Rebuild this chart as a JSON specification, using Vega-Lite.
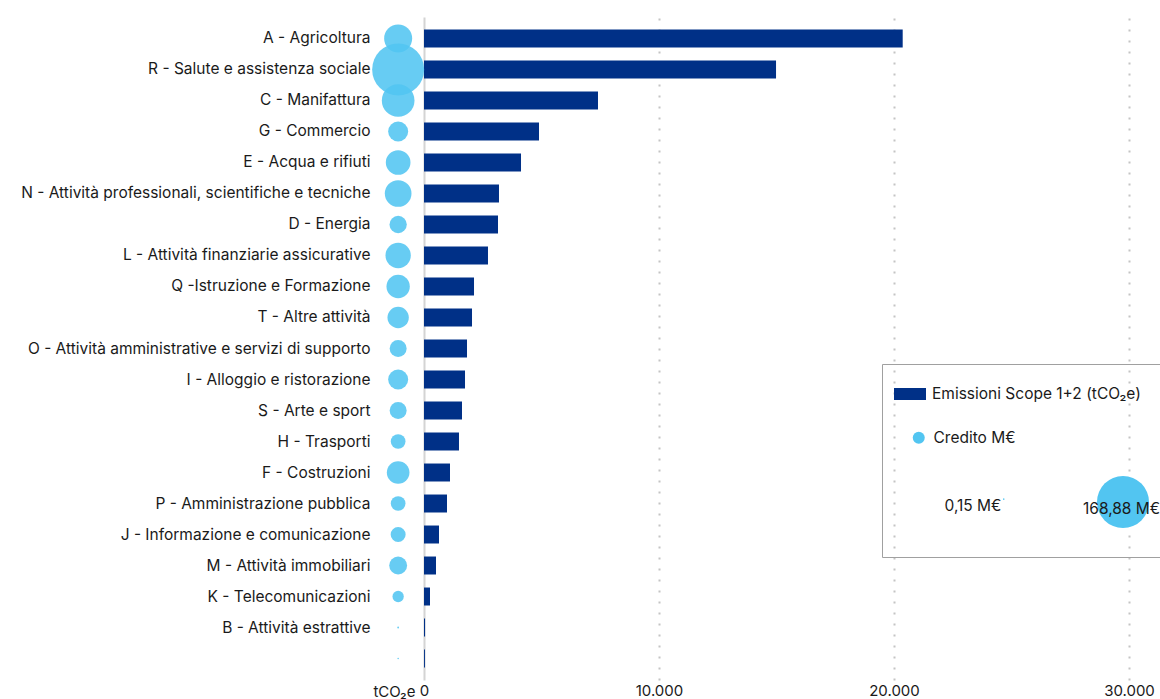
{
  "$schema": "https://vega.github.io/schema/vega-lite/v6.json",
  "width": 783,
  "height": 663,
  "autosize": {"type": "none"},
  "padding": {"left": 377, "top": 17, "right": 0, "bottom": 19},
  "background": "white",
  "config": {
    "view": {"stroke": null},
    "font": "Inter",
    "axis": {"labelFont": "Inter", "titleFont": "Inter"},
    "legend": {"labelFont": "Inter", "titleFont": "Inter"}
  },
  "data": {
    "values": [
      {"settore": "A - Agricoltura", "emissioni": 20370, "credito": 49},
      {"settore": "R - Salute e assistenza sociale", "emissioni": 14980, "credito": 168.88},
      {"settore": "C - Manifattura", "emissioni": 7404, "credito": 66.7},
      {"settore": "G - Commercio", "emissioni": 4894, "credito": 25},
      {"settore": "E - Acqua e rifiuti", "emissioni": 4128, "credito": 38},
      {"settore": "N - Attività professionali, scientifiche e tecniche", "emissioni": 3191, "credito": 44.5},
      {"settore": "D - Energia", "emissioni": 3149, "credito": 18.7},
      {"settore": "L - Attività finanziarie assicurative", "emissioni": 2723, "credito": 40},
      {"settore": "Q -Istruzione e Formazione", "emissioni": 2128, "credito": 34},
      {"settore": "T - Altre attività", "emissioni": 2043, "credito": 28.4},
      {"settore": "O - Attività amministrative e servizi di supporto", "emissioni": 1830, "credito": 18},
      {"settore": "I - Alloggio e ristorazione", "emissioni": 1745, "credito": 25},
      {"settore": "S - Arte e sport", "emissioni": 1617, "credito": 18},
      {"settore": "H - Trasporti", "emissioni": 1489, "credito": 13.5},
      {"settore": "F - Costruzioni", "emissioni": 1106, "credito": 32},
      {"settore": "P - Amministrazione pubblica", "emissioni": 979, "credito": 13.5},
      {"settore": "J - Informazione e comunicazione", "emissioni": 638, "credito": 14},
      {"settore": "M - Attività immobiliari", "emissioni": 511, "credito": 20},
      {"settore": "K - Telecomunicazioni", "emissioni": 255, "credito": 8},
      {"settore": "B - Attività estrattive", "emissioni": 45, "credito": 0.2},
      {"settore": "", "emissioni": 40, "credito": 0.15}
    ]
  },
  "layer": [
    {
      "mark": {"type": "bar"},
      "encoding": {
        "y": {
          "field": "settore",
          "type": "nominal",
          "sort": null,
          "scale": {"paddingInner": 0.42, "paddingOuter": 0.403},
          "axis": {
            "title": null,
            "ticks": false,
            "domain": false,
            "labelPadding": 7,
            "labelFontSize": 15.5,
            "labelColor": "#1a1a1a",
            "labelLimit": 500
          }
        },
        "x": {
          "field": "emissioni",
          "type": "quantitative",
          "scale": {"domain": [-2000, 31319], "nice": false, "zero": false},
          "axis": {
            "title": "tCO₂e",
            "titleFontSize": 15,
            "titleFontWeight": "normal",
            "titleColor": "#1a1a1a",
            "titleAlign": "right",
            "titleBaseline": "middle",
            "titleAnchor": null,
            "titleX": 38,
            "titleY": 11,
            "values": [0, 10000, 20000, 30000],
            "labelExpr": "replace(format(datum.value, ','), ',', '.')",
            "labelFontSize": 15,
            "labelColor": "#1a1a1a",
            "labelPadding": 3,
            "labelFlush": false,
            "labelOverlap": false,
            "ticks": false,
            "domain": false,
            "grid": true,
            "gridWidth": 2,
            "gridColor": {"condition": {"test": "datum.value === 0", "value": "#d4d4d4"}, "value": "#c4c4c4"},
            "gridDash": {"condition": {"test": "datum.value === 0", "value": []}, "value": [2, 9]}
          }
        },
        "color": {
          "datum": "Emissioni Scope 1+2 (tCO₂e)",
          "type": "nominal",
          "scale": {"range": ["#003087"]},
          "legend": {
            "orient": "none",
            "legendX": 516,
            "legendY": 360,
            "title": null,
            "padding": 0,
            "labelFontSize": 15.5,
            "labelColor": "#1a1a1a",
            "labelLimit": 400,
            "labelOffset": 5,
            "symbolSize": 1024,
            "symbolType": "M-1,-0.375H1V0.375H-1Z",
            "symbolOpacity": 1
          }
        }
      }
    },
    {
      "mark": {"type": "circle", "opacity": 0.88},
      "encoding": {
        "y": {"field": "settore", "type": "nominal", "sort": null},
        "x": {"datum": -1100, "type": "quantitative"},
        "fill": {
          "datum": "Credito M€",
          "type": "nominal",
          "scale": {"range": ["#52C5F1"]},
          "legend": {
            "orient": "none",
            "legendX": 534,
            "legendY": 413,
            "title": null,
            "padding": 0,
            "labelFontSize": 15.5,
            "labelColor": "#1a1a1a",
            "labelLimit": 400,
            "labelOffset": 7,
            "symbolSize": 144,
            "symbolType": "circle",
            "symbolOpacity": 1
          }
        },
        "size": {
          "field": "credito",
          "type": "quantitative",
          "scale": {"domain": [0, 168.88], "range": [0, 2704]},
          "legend": {
            "orient": "none",
            "legendX": 505,
            "legendY": 347,
            "title": " ",
            "titleFontSize": 15,
            "titlePadding": 70,
            "padding": 26,
            "direction": "horizontal",
            "columnPadding": -27,
            "values": [0.15, 168.88],
            "strokeColor": "#a0a0a0",
            "labelExpr": "replace(format(datum.value, '.2f'), '.', ',') + ' M€'",
            "labelFontSize": 15.5,
            "labelColor": "#1a1a1a",
            "labelOffset": -67,
            "labelBaseline": "top",
            "symbolOffset": 88,
            "symbolFillColor": "#5EC9F2",
            "symbolOpacity": 1
          }
        }
      }
    }
  ]
}
